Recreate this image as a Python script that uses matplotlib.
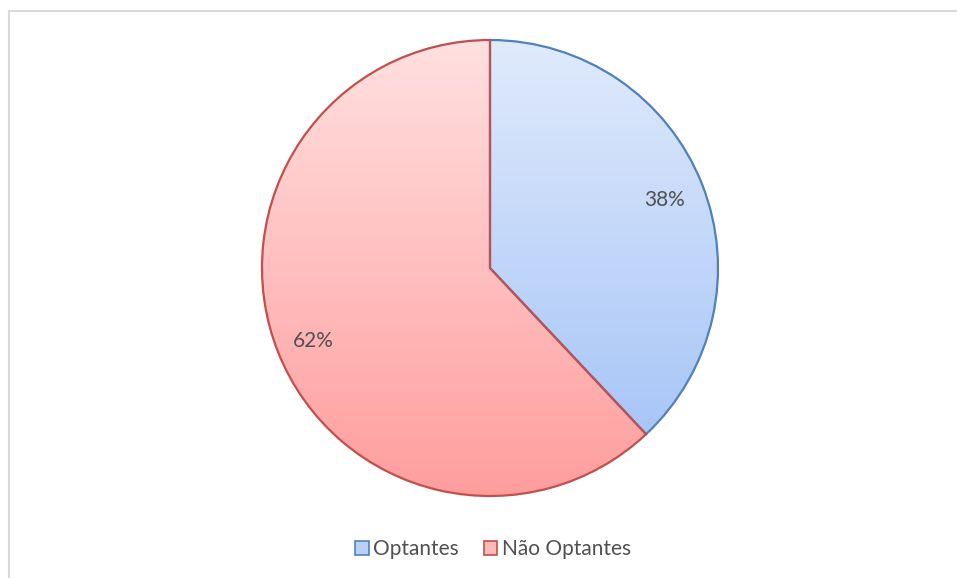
import numpy as np
import matplotlib
matplotlib.use("Agg")
import matplotlib.pyplot as plt
from matplotlib.patches import Patch
from matplotlib.colors import LinearSegmentedColormap
from matplotlib.lines import Line2D

labels = ["Optantes", "Não Optantes"]
values = [38, 62]
pct_labels = ["38%", "62%"]

edge_colors = ["#4f81bd", "#c0504d"]
grad_top = ["#e0eafc", "#ffe0e0"]
grad_bot = ["#9fc0f6", "#ff9d9d"]

W, H = 957, 578
fig = plt.figure(figsize=(W / 100, H / 100), dpi=100)
ax = fig.add_axes([0, 0, 1, 1])

cx, cy, r = 490, H - 268, 228
wedges, _ = ax.pie(values, startangle=90, counterclock=False, center=(cx, cy),
                   radius=r, frame=True,
                   wedgeprops=dict(linewidth=1.6, facecolor="none"))
ax.set_xlim(0, W)
ax.set_ylim(0, H)
ax.set_aspect("auto")
ax.axis("off")

grad = np.linspace(0, 1, 256).reshape(-1, 1)
for w, ec, t, b in zip(wedges, edge_colors, grad_top, grad_bot):
    cmap = LinearSegmentedColormap.from_list("g", [b, t])
    im = ax.imshow(grad, cmap=cmap, origin="lower", aspect="auto",
                   extent=[cx - r, cx + r, cy - r, cy + r], zorder=1)
    im.set_clip_path(w)
    w.set_edgecolor(ec)
    w.set_zorder(2)

# percentage labels
ax.text(665, H - 200, pct_labels[0], ha="center", va="center", fontsize=15,
        color="#505050", family="Lato", zorder=3)
ax.text(313, H - 341, pct_labels[1], ha="center", va="center", fontsize=15,
        color="#505050", family="Lato", zorder=3)

# frame lines (top and left)
ax.add_line(Line2D([9, W], [H - 10.5, H - 10.5], color="#d9d9d9", lw=1.5))
ax.add_line(Line2D([9, 9], [0, H - 10.5], color="#d9d9d9", lw=1.5))

handles = [Patch(facecolor="#b9d0f8", edgecolor=edge_colors[0], lw=1.2),
           Patch(facecolor="#ffb9b9", edgecolor=edge_colors[1], lw=1.2)]
fig.legend(handles, labels, loc="center", bbox_to_anchor=(493 / W, 1 - 549 / H),
           ncol=2, frameon=False, handlelength=0.65, handleheight=0.65,
           handletextpad=0.2, columnspacing=1.2,
           prop=dict(family="Lato", size=15), labelcolor="#505050")

fig.savefig("out.png", dpi=100, facecolor="white")
